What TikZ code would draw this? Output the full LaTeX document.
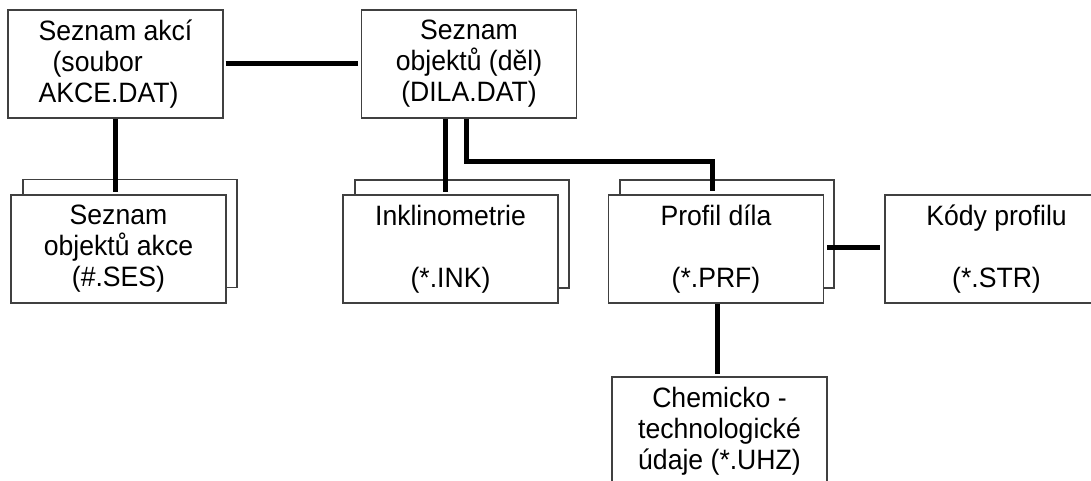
\documentclass[tikz,border=0pt]{standalone}
\usepackage{fontspec}
\setmainfont[FakeStretch=0.95]{Liberation Sans}
\newcommand\boxfont{\fontsize{28pt}{31pt}\selectfont}
\begin{document}
\begin{tikzpicture}[x=1pt,y=-1pt,
  box/.style={draw=black!75, line width=1.2pt, fill=white, align=center, inner sep=0pt,
    font=\boxfont, minimum width=215pt, minimum height=108pt},
  conn/.style={line width=5pt}]
\useasboundingbox (0,0) rectangle (1091,481);
% boxes
\node[box, align=left] (a) at (115.5,64) {Seznam akcí\\\hspace*{14pt}(soubor\\AKCE.DAT)};
\node[box] (b) at (469,64) {Seznam\\objektů (děl)\\(DILA.DAT)};
\node[box, minimum width=214pt] (cback) at (130,233.5) {};
\node[box] (c) at (118.5,249) {Seznam\\objektů akce\\(\#.SES)};
\node[box, minimum width=214pt] (dback) at (462,234) {};
\node[box] (d) at (450.5,249) {Inklinometrie\\[31pt](*.INK)};
\node[box, minimum width=214pt] (eback) at (727,234) {};
\node[box] (e) at (716,249) {Profil díla\\[31pt](*.PRF)};
\node[box, minimum width=223pt] (f) at (996.5,249) {Kódy profilu\\[31pt](*.STR)};
\node[box] (g) at (719.5,431) {Chemicko -\\technologické\\údaje (*.UHZ)};
% connectors
\draw[conn] ([xshift=2pt]a.east) -- ([xshift=-2.5pt]a.east -| b.west);
\draw[conn, shorten >=2pt] (a.south) -- (a.south |- c.north);
\draw[conn, shorten >=2pt] ([xshift=-24pt]b.south) -- ([xshift=-24pt]b.south |- d.north);
\draw[conn] ([xshift=-3pt]b.south) |- ([xshift=-4pt,yshift=33pt]e.north) -- ([xshift=-4pt,yshift=3pt]e.north);
\draw[conn] ([xshift=3pt,yshift=2pt]e.east) -- ([xshift=-4pt,yshift=2pt]f.west);
\draw[conn, shorten >=2pt] ([xshift=1pt]e.south) -- ([xshift=1pt]e.south |- g.north);
\end{tikzpicture}
\end{document}
